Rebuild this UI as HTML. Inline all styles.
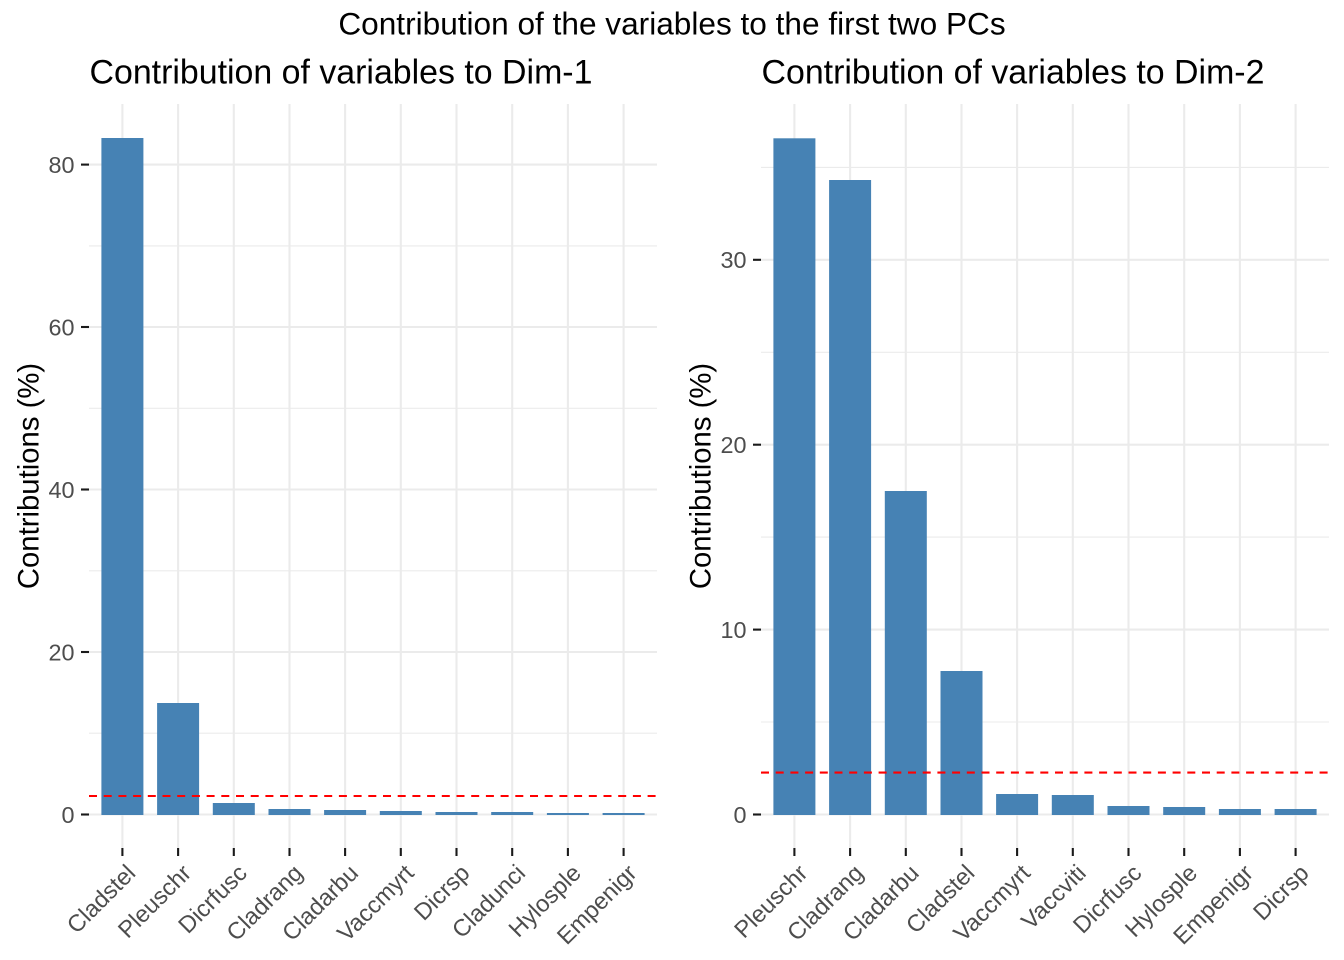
<!DOCTYPE html>
<html><head><meta charset="utf-8"><style>
html,body{margin:0;padding:0;background:#fff;}
svg{display:block;}
text{font-family:"Liberation Sans",Arial,sans-serif;}
</style></head><body>
<svg width="1344" height="960" viewBox="0 0 1344 960" xmlns="http://www.w3.org/2000/svg">
<rect width="1344" height="960" fill="#fff"/>
<text x="672" y="34.3" font-size="31.6" text-anchor="middle" fill="#000">Contribution of the variables to the first two PCs</text>

<!-- LEFT PANEL -->
<g>
<text x="89.5" y="83.3" font-size="33.9" fill="#000">Contribution of variables to Dim-1</text>
<g stroke="#EBEBEB" stroke-width="1.1">
<line x1="89" x2="657" y1="733.2" y2="733.2"/>
<line x1="89" x2="657" y1="570.8" y2="570.8"/>
<line x1="89" x2="657" y1="408.3" y2="408.3"/>
<line x1="89" x2="657" y1="245.9" y2="245.9"/>
</g>
<g stroke="#EBEBEB" stroke-width="2.1">
<line x1="89" x2="657" y1="814.5" y2="814.5"/>
<line x1="89" x2="657" y1="652" y2="652"/>
<line x1="89" x2="657" y1="489.5" y2="489.5"/>
<line x1="89" x2="657" y1="327" y2="327"/>
<line x1="89" x2="657" y1="164.6" y2="164.6"/>
<line x1="122.4" x2="122.4" y1="104" y2="848"/>
<line x1="178.1" x2="178.1" y1="104" y2="848"/>
<line x1="233.8" x2="233.8" y1="104" y2="848"/>
<line x1="289.5" x2="289.5" y1="104" y2="848"/>
<line x1="345.1" x2="345.1" y1="104" y2="848"/>
<line x1="400.8" x2="400.8" y1="104" y2="848"/>
<line x1="456.5" x2="456.5" y1="104" y2="848"/>
<line x1="512.2" x2="512.2" y1="104" y2="848"/>
<line x1="567.9" x2="567.9" y1="104" y2="848"/>
<line x1="623.6" x2="623.6" y1="104" y2="848"/>
</g>
<g fill="#4682B4">
<rect x="101.4" y="138" width="42" height="677"/>
<rect x="157.1" y="703" width="42" height="112"/>
<rect x="212.8" y="803" width="42" height="12"/>
<rect x="268.5" y="809" width="42" height="6"/>
<rect x="324.1" y="810" width="42" height="5"/>
<rect x="379.8" y="811" width="42" height="4"/>
<rect x="435.5" y="812" width="42" height="3"/>
<rect x="491.2" y="812" width="42" height="3"/>
<rect x="546.9" y="813" width="42" height="2"/>
<rect x="602.6" y="813" width="42" height="2"/>
</g>
<line x1="89" x2="657" y1="796" y2="796" stroke="#FF0000" stroke-width="2.1" stroke-dasharray="8 6.7"/>
<g stroke="#1a1a1a" stroke-width="2.1">
<line x1="81" x2="89" y1="814.5" y2="814.5"/>
<line x1="81" x2="89" y1="652" y2="652"/>
<line x1="81" x2="89" y1="489.5" y2="489.5"/>
<line x1="81" x2="89" y1="327" y2="327"/>
<line x1="81" x2="89" y1="164.6" y2="164.6"/>
<line x1="122.4" x2="122.4" y1="848" y2="856"/>
<line x1="178.1" x2="178.1" y1="848" y2="856"/>
<line x1="233.8" x2="233.8" y1="848" y2="856"/>
<line x1="289.5" x2="289.5" y1="848" y2="856"/>
<line x1="345.1" x2="345.1" y1="848" y2="856"/>
<line x1="400.8" x2="400.8" y1="848" y2="856"/>
<line x1="456.5" x2="456.5" y1="848" y2="856"/>
<line x1="512.2" x2="512.2" y1="848" y2="856"/>
<line x1="567.9" x2="567.9" y1="848" y2="856"/>
<line x1="623.6" x2="623.6" y1="848" y2="856"/>
</g>
<g font-size="23.4" fill="#4D4D4D" text-anchor="end">
<text x="74.5" y="822.8">0</text>
<text x="74.5" y="660.3">20</text>
<text x="74.5" y="497.8">40</text>
<text x="74.5" y="335.3">60</text>
<text x="74.5" y="172.9">80</text>
</g>
<text transform="translate(38.3,476) rotate(-90)" font-size="29.3" text-anchor="middle" fill="#000">Contributions (%)</text>
<g font-size="23.6" fill="#4D4D4D" text-anchor="end">
<text transform="translate(136.9,874.5) rotate(-45)">Cladstel</text>
<text transform="translate(192.6,874.5) rotate(-45)">Pleuschr</text>
<text transform="translate(248.3,874.5) rotate(-45)">Dicrfusc</text>
<text transform="translate(304,874.5) rotate(-45)">Cladrang</text>
<text transform="translate(359.6,874.5) rotate(-45)">Cladarbu</text>
<text transform="translate(415.3,874.5) rotate(-45)">Vaccmyrt</text>
<text transform="translate(471,874.5) rotate(-45)">Dicrsp</text>
<text transform="translate(526.7,874.5) rotate(-45)">Cladunci</text>
<text transform="translate(582.4,874.5) rotate(-45)">Hylosple</text>
<text transform="translate(638.1,874.5) rotate(-45)">Empenigr</text>
</g>
</g>

<!-- RIGHT PANEL -->
<g>
<text x="761.5" y="83.3" font-size="33.9" fill="#000">Contribution of variables to Dim-2</text>
<g stroke="#EBEBEB" stroke-width="1.1">
<line x1="761" x2="1329" y1="722" y2="722"/>
<line x1="761" x2="1329" y1="537.1" y2="537.1"/>
<line x1="761" x2="1329" y1="352.3" y2="352.3"/>
<line x1="761" x2="1329" y1="167.4" y2="167.4"/>
</g>
<g stroke="#EBEBEB" stroke-width="2.1">
<line x1="761" x2="1329" y1="814.5" y2="814.5"/>
<line x1="761" x2="1329" y1="629.6" y2="629.6"/>
<line x1="761" x2="1329" y1="444.7" y2="444.7"/>
<line x1="761" x2="1329" y1="259.8" y2="259.8"/>
<line x1="794.4" x2="794.4" y1="104" y2="848"/>
<line x1="850.1" x2="850.1" y1="104" y2="848"/>
<line x1="905.8" x2="905.8" y1="104" y2="848"/>
<line x1="961.5" x2="961.5" y1="104" y2="848"/>
<line x1="1017.1" x2="1017.1" y1="104" y2="848"/>
<line x1="1072.8" x2="1072.8" y1="104" y2="848"/>
<line x1="1128.5" x2="1128.5" y1="104" y2="848"/>
<line x1="1184.2" x2="1184.2" y1="104" y2="848"/>
<line x1="1239.9" x2="1239.9" y1="104" y2="848"/>
<line x1="1295.6" x2="1295.6" y1="104" y2="848"/>
</g>
<g fill="#4682B4">
<rect x="773.4" y="138.3" width="42" height="676.7"/>
<rect x="829.1" y="180" width="42" height="635"/>
<rect x="884.8" y="491" width="42" height="324"/>
<rect x="940.5" y="671" width="42" height="144"/>
<rect x="996.1" y="794" width="42" height="21"/>
<rect x="1051.8" y="795" width="42" height="20"/>
<rect x="1107.5" y="806" width="42" height="9"/>
<rect x="1163.2" y="807" width="42" height="8"/>
<rect x="1218.9" y="809" width="42" height="6"/>
<rect x="1274.6" y="809" width="42" height="6"/>
</g>
<line x1="761" x2="1329" y1="772.6" y2="772.6" stroke="#FF0000" stroke-width="2.1" stroke-dasharray="8 6.7"/>
<g stroke="#1a1a1a" stroke-width="2.1">
<line x1="753" x2="761" y1="814.5" y2="814.5"/>
<line x1="753" x2="761" y1="629.6" y2="629.6"/>
<line x1="753" x2="761" y1="444.7" y2="444.7"/>
<line x1="753" x2="761" y1="259.8" y2="259.8"/>
<line x1="794.4" x2="794.4" y1="848" y2="856"/>
<line x1="850.1" x2="850.1" y1="848" y2="856"/>
<line x1="905.8" x2="905.8" y1="848" y2="856"/>
<line x1="961.5" x2="961.5" y1="848" y2="856"/>
<line x1="1017.1" x2="1017.1" y1="848" y2="856"/>
<line x1="1072.8" x2="1072.8" y1="848" y2="856"/>
<line x1="1128.5" x2="1128.5" y1="848" y2="856"/>
<line x1="1184.2" x2="1184.2" y1="848" y2="856"/>
<line x1="1239.9" x2="1239.9" y1="848" y2="856"/>
<line x1="1295.6" x2="1295.6" y1="848" y2="856"/>
</g>
<g font-size="23.4" fill="#4D4D4D" text-anchor="end">
<text x="746.5" y="822.8">0</text>
<text x="746.5" y="637.9">10</text>
<text x="746.5" y="453">20</text>
<text x="746.5" y="268.1">30</text>
</g>
<text transform="translate(710.3,476) rotate(-90)" font-size="29.3" text-anchor="middle" fill="#000">Contributions (%)</text>
<g font-size="23.6" fill="#4D4D4D" text-anchor="end">
<text transform="translate(808.9,874.5) rotate(-45)">Pleuschr</text>
<text transform="translate(864.6,874.5) rotate(-45)">Cladrang</text>
<text transform="translate(920.3,874.5) rotate(-45)">Cladarbu</text>
<text transform="translate(976,874.5) rotate(-45)">Cladstel</text>
<text transform="translate(1031.6,874.5) rotate(-45)">Vaccmyrt</text>
<text transform="translate(1087.3,874.5) rotate(-45)">Vaccviti</text>
<text transform="translate(1143,874.5) rotate(-45)">Dicrfusc</text>
<text transform="translate(1198.7,874.5) rotate(-45)">Hylosple</text>
<text transform="translate(1254.4,874.5) rotate(-45)">Empenigr</text>
<text transform="translate(1310.1,874.5) rotate(-45)">Dicrsp</text>
</g>
</g>
</svg>
</body></html>
